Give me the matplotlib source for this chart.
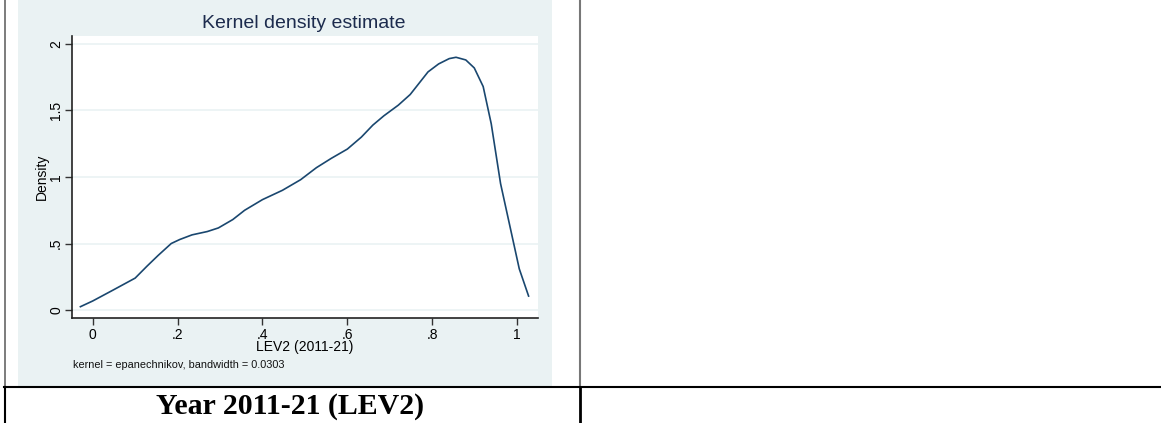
"""Stata-style kernel density plot inside a two-column table cell."""

import matplotlib

matplotlib.use("Agg")

import matplotlib.pyplot as plt
from matplotlib.lines import Line2D
from matplotlib.patches import Rectangle

W, H, DPI = 1161, 423, 100

# kdensity curve (LEV2, 2011-21)
lev2 = [-0.029, 0.0, 0.048, 0.1, 0.128, 0.154, 0.185, 0.205, 0.234, 0.27,
        0.296, 0.33, 0.358, 0.40, 0.447, 0.49, 0.527, 0.562, 0.60, 0.633,
        0.66, 0.686, 0.72, 0.748, 0.79, 0.815, 0.84, 0.856, 0.879, 0.899,
        0.92, 0.939, 0.961, 0.983, 1.005, 1.027]
density = [0.025, 0.068, 0.15, 0.24, 0.33, 0.41, 0.50, 0.53, 0.565, 0.59,
           0.617, 0.68, 0.75, 0.83, 0.90, 0.98, 1.07, 1.14, 1.21, 1.30,
           1.39, 1.46, 1.54, 1.62, 1.79, 1.85, 1.89, 1.90, 1.88, 1.82,
           1.68, 1.40, 0.95, 0.63, 0.31, 0.105]

x_ticks = [0, 0.2, 0.4, 0.6, 0.8, 1.0]
x_tick_labels = ["0", ".2", ".4", ".6", ".8", "1"]
y_ticks = [0, 0.5, 1.0, 1.5, 2.0]
y_tick_labels = ["0", ".5", "1", "1.5", "2"]

STATA_BG = "#eaf2f3"
LINE_COLOR = "#1a476f"
FONT = "Liberation Sans"


def px(x, y):
    """Pixel position (from top-left) to figure fraction."""
    return x / W, 1 - y / H


fig = plt.figure(figsize=(W / DPI, H / DPI), dpi=DPI)
fig.patch.set_facecolor("white")

# Stata graph region
fig.patches.append(Rectangle(px(18, 386), 534 / W, 386 / H, transform=fig.transFigure,
                             facecolor=STATA_BG, edgecolor="none", zorder=-5))

left, top, right, bottom = 71.5, 36, 537.5, 318
ax = fig.add_axes([left / W, 1 - bottom / H, (right - left) / W, (bottom - top) / H])
ax.set_zorder(2)
ax.set_facecolor("white")
ax.plot(lev2, density, color=LINE_COLOR, linewidth=1.2)
ax.set_xlim(-0.05, 1.048)
ax.set_ylim(-0.06, 2.06)

ax.set_xticks(x_ticks)
ax.set_xticklabels(x_tick_labels, fontname=FONT, fontsize=10)
ax.set_yticks(y_ticks)
ax.set_yticklabels(y_tick_labels, fontname=FONT, fontsize=10, rotation=90, va="center")
ax.tick_params(axis="both", direction="out", length=5, width=1, color="#333333", pad=2)
ax.tick_params(axis="y", pad=1)
ax.grid(axis="y", color=STATA_BG, linewidth=1.2)
ax.set_axisbelow(True)
for side in ["top", "right"]:
    ax.spines[side].set_visible(False)
for side in ["left", "bottom"]:
    ax.spines[side].set_color("#222222")
    ax.spines[side].set_linewidth(1.2)

ax.set_ylabel("Density", fontname=FONT, fontsize=10, labelpad=0)
ax.set_xlabel("LEV2 (2011-21)", fontname=FONT, fontsize=10, labelpad=-1)

fig.text(*px(304, 23), "Kernel density estimate", fontname=FONT, fontsize=14,
         color="#1c2b4d", ha="center", va="center")
fig.text(*px(73, 365), "kernel = epanechnikov, bandwidth = 0.0303", fontname=FONT,
         fontsize=7.8, color="#111111", ha="left", va="center")

# table borders
def hline(y, x0, x1, color, lw):
    fig.add_artist(Line2D([x0 / W, x1 / W], [1 - y / H, 1 - y / H], color=color,
                          linewidth=lw, transform=fig.transFigure))


def vline(x, y0, y1, color, lw):
    fig.add_artist(Line2D([x / W, x / W], [1 - y0 / H, 1 - y1 / H], color=color,
                          linewidth=lw, transform=fig.transFigure))


vline(5, 0, 387, "#666666", 1.2)
vline(5, 387, 423, "black", 1.5)
vline(580, 0, 387, "#777777", 1.5)
vline(580, 387, 423, "black", 2.0)
hline(387, 4, W, "black", 1.5)

fig.text(*px(290, 406), "Year 2011-21 (LEV2)", fontname="Liberation Serif",
         fontweight="bold", fontsize=21.5, ha="center", va="center")

fig.savefig("out.png", dpi=DPI)
